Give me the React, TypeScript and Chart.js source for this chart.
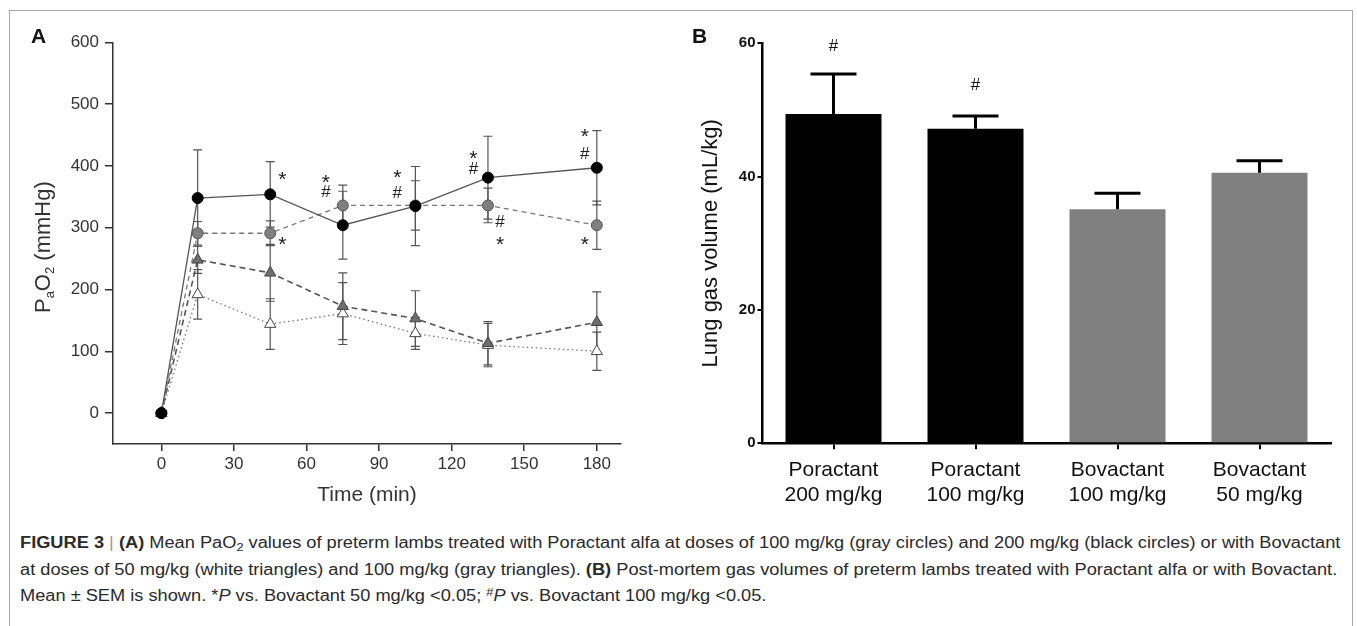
import React, { useEffect, useLayoutEffect, useRef } from "react";
import { Chart, registerables } from "chart.js";

Chart.register(...registerables);

// ---------------- Panel A data (PaO2, mmHg) ----------------
const timeMin = [0, 15, 45, 75, 105, 135, 180];
const pora200Mean = [0, 348, 354, 304, 335, 381, 397];
const pora200Sem = [0, 78, 53, 55, 64, 67, 60];
const pora100Mean = [0, 291, 291, 336, 336, 336, 304];
const pora100Sem = [0, 19, 20, 33, 40, 28, 39];
const bova100Mean = [0, 248, 227, 173, 153, 113, 147];
const bova100Sem = [0, 22, 46, 54, 45, 35, 49];
const bova50Mean = [0, 192, 144, 161, 129, 110, 100];
const bova50Sem = [0, 40, 41, 50, 26, 35, 31];
const xTicksA = [0, 30, 60, 90, 120, 150, 180];
const yTicksA = [0, 100, 200, 300, 400, 500, 600];
const sigTextA = ["*", "*", "*", "#", "*", "#", "*", "#", "#", "*", "*", "#", "*"];
const sigTimeA = [50, 50, 68, 68, 97.5, 97.5, 129, 129, 140, 140, 175, 175, 175];
const sigValueA = [387, 282, 383, 360, 390, 358, 421, 397, 311, 282, 457, 421, 282];

// ---------------- Panel B data (lung gas volume, mL/kg) ----------------
const groupsB = [
  ["Poractant", "200 mg/kg"],
  ["Poractant", "100 mg/kg"],
  ["Bovactant", "100 mg/kg"],
  ["Bovactant", "50 mg/kg"],
];
const lungVolMean = [49.4, 47.2, 35.1, 40.6];
const lungVolSem = [6.0, 1.9, 2.4, 1.8];
const sigTextB = ["#", "#", "", ""];
const sigValueB = [59.8, 53.9, 0, 0];
const yTicksB = [0, 20, 40, 60];

const FONT = '"Liberation Sans", Arial, Helvetica, sans-serif';

const pts = (means: number[]) => timeMin.map((t, i) => ({ x: t, y: means[i] }));

const errorBarsA = {
  id: "errorBarsA",
  beforeDatasetsDraw(chart: any) {
    const { ctx, scales } = chart;
    const x = scales.x;
    const y = scales.y;
    ctx.save();
    ctx.strokeStyle = "#555";
    ctx.lineWidth = 1.2;
    chart.data.datasets.forEach((ds: any) => {
      const sem = ds.sem as number[];
      ds.data.forEach((p: any, j: number) => {
        if (!sem || !sem[j]) return;
        const px = x.getPixelForValue(p.x);
        const y1 = y.getPixelForValue(p.y + sem[j]);
        const y2 = y.getPixelForValue(p.y - sem[j]);
        ctx.beginPath();
        ctx.moveTo(px, y1);
        ctx.lineTo(px, y2);
        ctx.moveTo(px - 4.5, y1);
        ctx.lineTo(px + 4.5, y1);
        ctx.moveTo(px - 4.5, y2);
        ctx.lineTo(px + 4.5, y2);
        ctx.stroke();
      });
    });
    ctx.restore();
  },
};

const sigMarksA = {
  id: "sigMarksA",
  afterDatasetsDraw(chart: any) {
    const { ctx, scales } = chart;
    ctx.save();
    ctx.fillStyle = "#222";
    ctx.textAlign = "center";
    ctx.textBaseline = "alphabetic";
    sigTextA.forEach((s, i) => {
      const size = s === "*" ? 21 : 17;
      ctx.font = `${size}px ${FONT}`;
      const px = scales.x.getPixelForValue(sigTimeA[i]);
      const py = scales.y.getPixelForValue(sigValueA[i]);
      const off = s === "*" ? 0.58 * size : 0.36 * size;
      ctx.fillText(s, px, py + off);
    });
    ctx.restore();
  },
};

const yTitleA = {
  id: "yTitleA",
  afterDraw(chart: any) {
    const { ctx, chartArea } = chart;
    const cx = 42;
    const cy = (chartArea.top + chartArea.bottom) / 2 + 4;
    const big = 22;
    const small = 13;
    const parts: [string, number, number][] = [
      ["P", big, 0],
      ["a", small, 4],
      ["O", big, 0],
      ["2", small, 4],
      [" (mmHg)", big, 0],
    ];
    ctx.save();
    ctx.translate(cx, cy);
    ctx.rotate(-Math.PI / 2);
    ctx.fillStyle = "#333";
    ctx.textBaseline = "alphabetic";
    ctx.textAlign = "left";
    let total = 0;
    parts.forEach(([t, s]) => {
      ctx.font = `${s}px ${FONT}`;
      total += ctx.measureText(t).width;
    });
    let xx = -total / 2;
    const base = 0.36 * big;
    parts.forEach(([t, s, dy]) => {
      ctx.font = `${s}px ${FONT}`;
      ctx.fillText(t, xx, base + dy);
      xx += ctx.measureText(t).width;
    });
    ctx.restore();
  },
};

const errorBarsB = {
  id: "errorBarsB",
  afterDatasetsDraw(chart: any) {
    const { ctx, scales } = chart;
    const meta = chart.getDatasetMeta(0);
    ctx.save();
    ctx.strokeStyle = "#000";
    ctx.lineWidth = 3;
    meta.data.forEach((bar: any, i: number) => {
      const top = scales.y.getPixelForValue(lungVolMean[i] + lungVolSem[i]);
      ctx.beginPath();
      ctx.moveTo(bar.x, bar.y);
      ctx.lineTo(bar.x, top);
      ctx.moveTo(bar.x - 23, top);
      ctx.lineTo(bar.x + 23, top);
      ctx.stroke();
    });
    const size = 17;
    ctx.font = `${size}px ${FONT}`;
    ctx.fillStyle = "#111";
    ctx.textAlign = "center";
    ctx.textBaseline = "alphabetic";
    meta.data.forEach((bar: any, i: number) => {
      if (!sigTextB[i]) return;
      const py = scales.y.getPixelForValue(sigValueB[i]);
      ctx.fillText(sigTextB[i], bar.x, py + 0.36 * size);
    });
    ctx.restore();
  },
};

function PanelA() {
  const ref = useRef<HTMLCanvasElement>(null);
  useEffect(() => {
    const chart = new Chart(ref.current as HTMLCanvasElement, {
      type: "scatter",
      data: {
        datasets: [
          {
            label: "Poractant 200 mg/kg",
            data: pts(pora200Mean),
            sem: pora200Sem,
            showLine: true,
            borderColor: "#555",
            borderWidth: 1.3,
            pointStyle: "circle",
            pointRadius: 5.5,
            pointBackgroundColor: "#000",
            pointBorderColor: "#000",
            pointBorderWidth: 1,
          } as any,
          {
            label: "Poractant 100 mg/kg",
            data: pts(pora100Mean),
            sem: pora100Sem,
            showLine: true,
            borderColor: "#777",
            borderWidth: 1.3,
            borderDash: [5, 4],
            pointStyle: "circle",
            pointRadius: 5.5,
            pointBackgroundColor: "#7f7f7f",
            pointBorderColor: "#555",
            pointBorderWidth: 1,
          } as any,
          {
            label: "Bovactant 100 mg/kg",
            data: pts(bova100Mean),
            sem: bova100Sem,
            showLine: true,
            borderColor: "#555",
            borderWidth: 1.6,
            borderDash: [6, 4],
            pointStyle: "triangle",
            pointRadius: 6.5,
            pointBackgroundColor: "#6e6e6e",
            pointBorderColor: "#444",
            pointBorderWidth: 1,
          } as any,
          {
            label: "Bovactant 50 mg/kg",
            data: pts(bova50Mean),
            sem: bova50Sem,
            showLine: true,
            borderColor: "#777",
            borderWidth: 1.3,
            borderDash: [1.5, 3],
            pointStyle: "triangle",
            pointRadius: 6.5,
            pointBackgroundColor: "#fff",
            pointBorderColor: "#444",
            pointBorderWidth: 1,
          } as any,
        ],
      },
      options: {
        animation: false,
        responsive: false,
        maintainAspectRatio: false,
        layout: { padding: { top: 42.3, right: 19, left: 0, bottom: 0 }, autoPadding: false } as any,
        plugins: { legend: { display: false }, tooltip: { enabled: false } },
        scales: {
          x: {
            type: "linear",
            min: -20,
            max: 190,
            afterBuildTicks: (s: any) => {
              s.ticks = xTicksA.map((v) => ({ value: v }));
            },
            afterFit: (s: any) => {
              s.height = 76;
            },
            ticks: { font: { family: FONT, size: 17 }, color: "#333", padding: 3 },
            grid: { drawOnChartArea: false, drawTicks: true, tickLength: 7, color: "#333", lineWidth: 1.5 },
            border: { display: true, color: "#333", width: 1.5 },
            title: {
              display: true,
              text: "Time (min)",
              font: { family: FONT, size: 21 },
              color: "#333",
              padding: { top: 0, bottom: 12 },
            },
          },
          y: {
            type: "linear",
            min: -50,
            max: 600,
            afterBuildTicks: (s: any) => {
              s.ticks = yTicksA.map((v) => ({ value: v }));
            },
            afterFit: (s: any) => {
              s.width = 113;
            },
            ticks: { font: { family: FONT, size: 17 }, color: "#333", padding: 6 },
            grid: { drawOnChartArea: false, drawTicks: true, tickLength: 8, color: "#333", lineWidth: 1.5 },
            border: { display: true, color: "#333", width: 1.5 },
          },
        } as any,
      },
      plugins: [errorBarsA, sigMarksA, yTitleA],
    });
    return () => chart.destroy();
  }, []);
  return (
    <canvas
      ref={ref}
      width={640}
      height={520}
      style={{ position: "absolute", left: 0, top: 0, width: 640, height: 520 }}
    />
  );
}

function PanelB() {
  const ref = useRef<HTMLCanvasElement>(null);
  useEffect(() => {
    const chart = new Chart(ref.current as HTMLCanvasElement, {
      type: "bar",
      data: {
        labels: groupsB,
        datasets: [
          {
            label: "Lung gas volume",
            data: lungVolMean,
            backgroundColor: ["#000", "#000", "#808080", "#808080"],
            barPercentage: 0.676,
            categoryPercentage: 1,
          },
        ],
      },
      options: {
        animation: false,
        responsive: false,
        maintainAspectRatio: false,
        layout: { padding: { top: 43.3, right: 26.5, left: 0, bottom: 0 }, autoPadding: false } as any,
        plugins: { legend: { display: false }, tooltip: { enabled: false } },
        scales: {
          x: {
            afterFit: (s: any) => {
              s.height = 76.7;
            },
            ticks: {
              font: { family: FONT, size: 21, lineHeight: 25 / 21 },
              color: "#111",
              padding: 8,
              maxRotation: 0,
              autoSkip: false,
            },
            grid: { drawOnChartArea: false, offset: false, drawTicks: true, tickLength: 6, color: "#000", lineWidth: 2 },
            border: { display: true, color: "#000", width: 2.5 },
          },
          y: {
            min: 0,
            max: 60,
            afterBuildTicks: (s: any) => {
              s.ticks = yTicksB.map((v) => ({ value: v }));
            },
            afterFit: (s: any) => {
              s.width = 122.5;
            },
            ticks: { font: { family: FONT, size: 15, weight: "bold" }, color: "#111", padding: 2 },
            grid: { drawOnChartArea: false, drawTicks: true, tickLength: 5, color: "#000", lineWidth: 2 },
            border: { display: true, color: "#000", width: 2.5 },
            title: {
              display: true,
              text: "Lung gas volume (mL/kg)",
              font: { family: FONT, size: 22 },
              color: "#111",
              padding: { top: 58, bottom: 0 },
            },
          },
        } as any,
      },
      plugins: [errorBarsB],
    });
    return () => chart.destroy();
  }, []);
  return (
    <canvas
      ref={ref}
      width={717}
      height={520}
      style={{ position: "absolute", left: 640, top: 0, width: 717, height: 520 }}
    />
  );
}

function Caption() {
  const l1 = useRef<HTMLDivElement>(null);
  const l2 = useRef<HTMLDivElement>(null);
  const l3 = useRef<HTMLDivElement>(null);
  useLayoutEffect(() => {
    const a = l1.current!;
    const b = l2.current!;
    const c = l3.current!;
    const k1 = 1320 / a.offsetWidth;
    const k2 = 1317 / b.offsetWidth;
    a.style.transform = `scaleX(${k1})`;
    b.style.transform = `scaleX(${k2})`;
    c.style.transform = `scaleX(${k1})`;
  }, []);
  const lineStyle: React.CSSProperties = {
    whiteSpace: "nowrap",
    width: "max-content",
    transformOrigin: "left center",
    height: 26.5,
    lineHeight: "26.5px",
  };
  const sub: React.CSSProperties = { fontSize: "0.7em", verticalAlign: "-0.25em", lineHeight: 0 };
  const sup: React.CSSProperties = { fontSize: "0.7em", verticalAlign: "0.45em", lineHeight: 0 };
  return (
    <div
      style={{
        position: "absolute",
        left: 20,
        top: 530,
        fontFamily: FONT,
        fontSize: 16,
        color: "#2a2a2a",
      }}
    >
      <div ref={l1} style={lineStyle}>
        <b>FIGURE 3</b> <span style={{ color: "#999" }}>|</span> <b>(A)</b> Mean PaO<span style={sub}>2</span> values
        of preterm lambs treated with Poractant alfa at doses of 100 mg/kg (gray circles) and 200 mg/kg (black
        circles) or with Bovactant
      </div>
      <div ref={l2} style={lineStyle}>
        at doses of 50 mg/kg (white triangles) and 100 mg/kg (gray triangles). <b>(B)</b> Post-mortem gas volumes of
        preterm lambs treated with Poractant alfa or with Bovactant.
      </div>
      <div ref={l3} style={lineStyle}>
        Mean ± SEM is shown. *<i>P</i> vs. Bovactant 50 mg/kg &lt;0.05; <span style={sup}>#</span>
        <i>P</i> vs. Bovactant 100 mg/kg &lt;0.05.
      </div>
    </div>
  );
}

export default function App() {
  return (
    <div
      style={{
        position: "absolute",
        left: 0,
        top: 0,
        width: 1357,
        height: 626,
        overflow: "hidden",
        background: "#fff",
      }}
    >
      <div
        style={{
          position: "absolute",
          left: 9,
          top: 10,
          width: 1344,
          height: 700,
          border: "1.5px solid #a8a8a8",
          boxSizing: "border-box",
        }}
      />
      <PanelA />
      <PanelB />
      <div
        style={{
          position: "absolute",
          left: 31,
          top: 24,
          fontFamily: FONT,
          fontWeight: "bold",
          fontSize: 21,
          color: "#111",
        }}
      >
        A
      </div>
      <div
        style={{
          position: "absolute",
          left: 692,
          top: 24,
          fontFamily: FONT,
          fontWeight: "bold",
          fontSize: 21,
          color: "#111",
        }}
      >
        B
      </div>
      <Caption />
    </div>
  );
}
